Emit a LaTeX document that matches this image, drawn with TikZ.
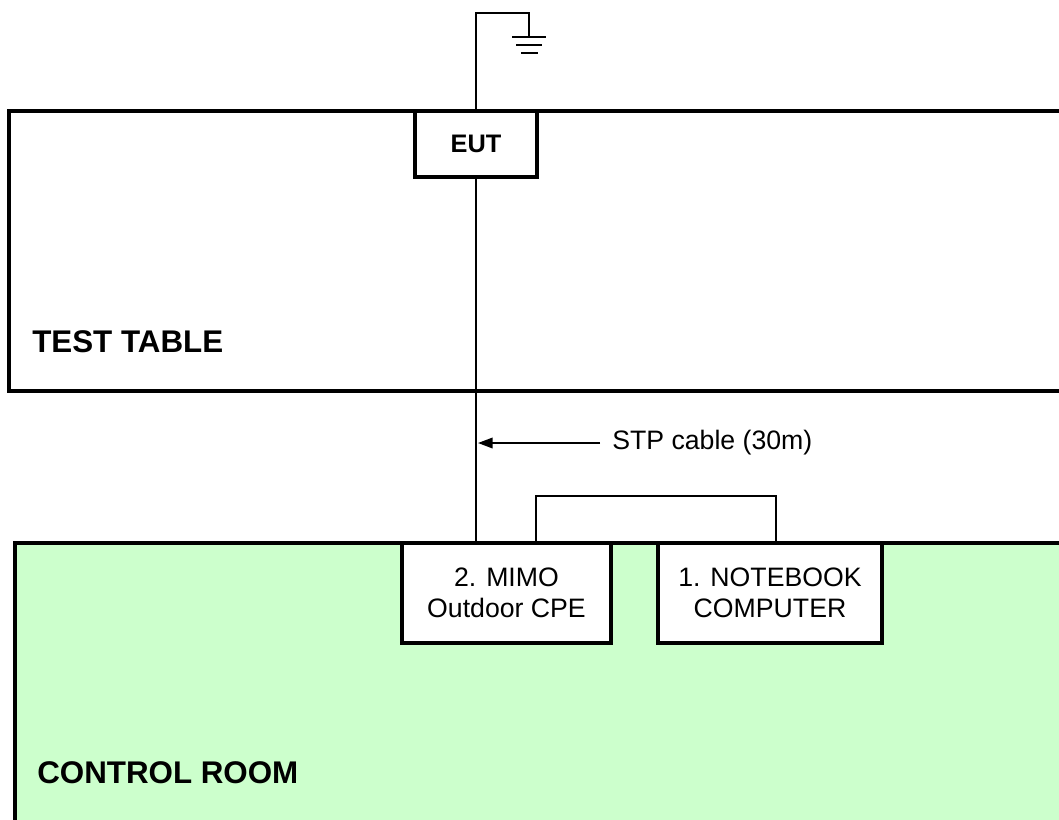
\documentclass[tikz,border=0pt]{standalone}
\usepackage{fontspec}
\setmainfont{Liberation Sans}
\usetikzlibrary{arrows.meta,positioning}
\definecolor{roomgreen}{RGB}{204,255,204}
\tikzset{
  areabox/.style={draw=black, line width=3pt},
  unitbox/.style={draw=black, fill=white, line width=3pt, align=center, inner sep=0pt,
    font=\fontsize{20}{23}\selectfont},
  wire/.style={draw=black, line width=1.1pt},
  arealabel/.style={anchor=base west, inner sep=0pt, font=\fontsize{23.5}{26}\selectfont\bfseries},
  cablearr/.style={-{Triangle[length=11pt,width=8pt]}, line width=1.1pt}
}

\begin{document}
\begin{tikzpicture}[x=0.75pt,y=-0.75pt]
  \useasboundingbox (0,0) rectangle (1059,819);
  \clip (0,0) rectangle (1059,819);
  % areas
  \draw[areabox] (9,111) rectangle (1080,391);
  \draw[areabox, fill=roomgreen] (15,543) rectangle (1080,840);
  \node[arealabel] (tablelbl) at (32,352) {TEST TABLE};
  \node[arealabel] (roomlbl) at (37,783) {CONTROL ROOM};
  % ground
  \coordinate (gtop) at (476,13);
  \coordinate (gnd) at (529,37);
  \draw[wire] (476,111) -- (gtop) -| (gnd);
  \draw[wire] (512,37) -- (546,37);
  \draw[wire] (516,45) -- (542,45);
  \draw[wire] (521,53) -- (538,53);
  % units
  \node[unitbox, minimum width=91.5pt, minimum height=49.5pt,
    font=\fontsize{19}{21}\selectfont\bfseries] (eut) at (476,144) {EUT};
  \node[unitbox, minimum width=156.75pt, minimum height=75pt] (cpe) at (506.5,593) {2. MIMO\\Outdoor CPE};
  \node[unitbox, minimum width=168pt, minimum height=75pt] (nb) at (770,593) {1. NOTEBOOK\\COMPUTER};
  % cables
  \draw[wire] (eut.south) -- (eut.south |- cpe.north);
  \node[anchor=west, inner sep=0pt, font=\fontsize{20}{23}\selectfont] (stp) at (612,443) {STP cable (30m)};
  \coordinate (stpend) at (478,443);
  \draw[cablearr] ([xshift=-9pt]stp.west) -- (stpend);
  \coordinate (cpeport) at (536,543);
  \coordinate (nbport) at (776,543);
  \draw[wire] (cpeport) -- ++(0,-47) -| (nbport);
\end{tikzpicture}
\end{document}
